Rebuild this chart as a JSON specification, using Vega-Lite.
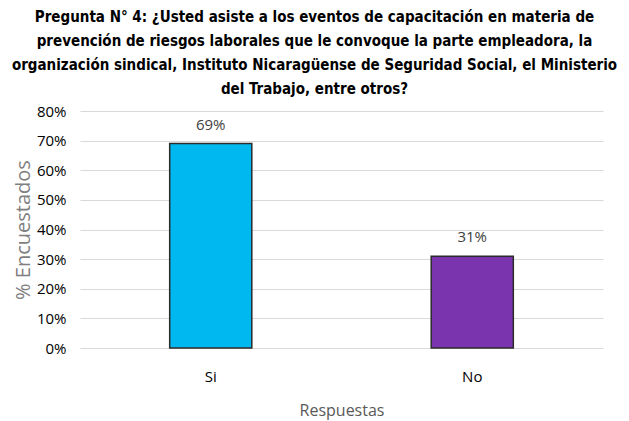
{
  "$schema": "https://vega.github.io/schema/vega-lite/v6.json",
  "autosize": {"type": "none"},
  "width": 523,
  "height": 237,
  "padding": {"left": 80, "top": 111, "right": 26, "bottom": 73},
  "background": "white",
  "config": {"view": {"stroke": null}},
  "title": {
    "text": ["Pregunta N° 4: ¿Usted  asiste a los eventos de capacitación en materia de", "prevención de riesgos laborales que le convoque la parte empleadora, la", "organización sindical, Instituto Nicaragüense de Seguridad Social, el Ministerio", "del Trabajo, entre otros?"],
    "font": "DejaVu Sans Condensed",
    "fontSize": 15,
    "fontWeight": "bold",
    "color": "#000000",
    "lineHeight": 24,
    "anchor": "middle",
    "dx": -27,
    "offset": 7
  },
  "data": {"values": [
    {"respuesta": "Si", "pct": 0.69},
    {"respuesta": "No", "pct": 0.31}
  ]},
  "encoding": {
    "x": {
      "field": "respuesta", "type": "nominal", "sort": ["Si", "No"],
      "scale": {"paddingInner": 0.686, "paddingOuter": 0.343},
      "axis": {"title": "Respuestas", "labelAngle": 0, "domain": false, "ticks": false, "grid": false,
        "labelFont": "Open Sans", "labelFontSize": 15, "labelColor": "#000000", "labelPadding": 21,
        "titleFont": "Open Sans", "titleFontSize": 16, "titleFontWeight": "normal", "titleColor": "#595959", "titlePadding": 18}
    },
    "y": {
      "field": "pct", "type": "quantitative",
      "scale": {"domain": [0, 0.8]},
      "axis": {"title": "% Encuestados", "format": ".0%", "values": [0,0.1,0.2,0.3,0.4,0.5,0.6,0.7,0.8],
        "labelOverlap": false,
        "domain": false, "ticks": false, "grid": true, "gridColor": "#d9d9d9", "gridWidth": 1,
        "labelFont": "Open Sans", "labelFontSize": 15, "labelColor": "#000000", "labelPadding": 14,
        "titleFont": "Open Sans", "titleFontSize": 20, "titleFontWeight": "normal", "titleColor": "#7f7f7f", "titlePadding": 3}
    }
  },
  "layer": [
    {
      "mark": {"type": "bar", "stroke": "#2b2b2b", "strokeWidth": 1.5},
      "encoding": {
        "color": {"field": "respuesta", "type": "nominal", "legend": null,
          "scale": {"domain": ["Si", "No"], "range": ["#00B8F0", "#7A35AE"]}}
      }
    },
    {
      "mark": {"type": "text", "dy": -19, "font": "Open Sans", "fontSize": 15, "color": "#404040"},
      "encoding": {"text": {"field": "pct", "type": "quantitative", "format": ".0%"}}
    }
  ]
}
